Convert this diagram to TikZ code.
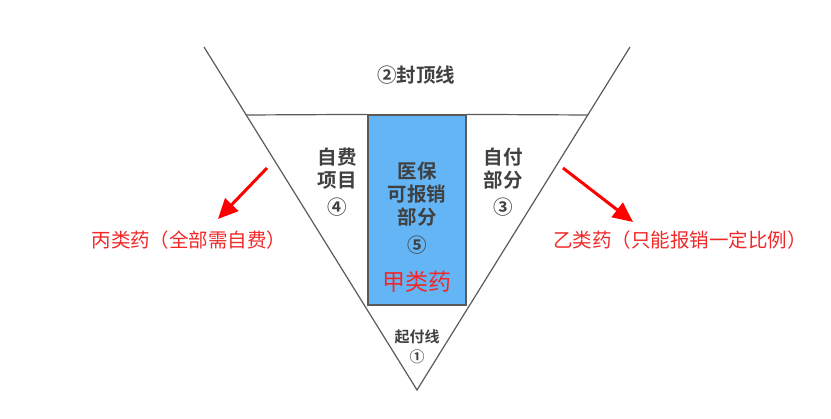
\documentclass[tikz,border=0pt]{standalone}
\usepackage{fontspec}
\newfontfamily\cjk{Noto Sans CJK SC}[BoldFont={Noto Sans CJK SC Bold}]
\usetikzlibrary{positioning,arrows.meta}
\definecolor{txtgray}{HTML}{404040}
\definecolor{linegray}{HTML}{5A5A5A}
\definecolor{boxblue}{HTML}{64B5F6}
\definecolor{lblred}{HTML}{F02828}
\begin{document}
\begin{tikzpicture}[x=1pt,y=-1pt]

        \tikzstyle{arrow} = [line width=3pt,-{Triangle[length=20pt,width=18pt]},draw=red]
        \tikzset{part/.style = {text=txtgray, font=\cjk\bfseries\fontsize{19.5}{23}\selectfont, align=center}, }
        \tikzset{medbox/.style = {rectangle, draw=linegray, line width=1.2pt, fill=boxblue, minimum width=98pt, minimum height=190pt}, }
        \tikzset{drug/.style = {text=lblred, font=\cjk\fontsize{19.5}{23}\selectfont} }

        \useasboundingbox (0,0) rectangle (831,419);

        \coordinate (TL) at (204,47);
        \coordinate (TR) at (630,47);
        \coordinate (AP) at (417,390);
        \coordinate (HL) at (246,115);
        \coordinate (HR) at (588,115);

        \node[medbox] (YB) at (417,210) {};

        \draw[linegray, line width=1.2pt] (TL) -- (AP) -- (TR);
        \draw[linegray, line width=1.2pt] (HL) -- (YB.north west);
        \draw[linegray, line width=1.2pt] (YB.north east) -- (HR);

        \node[part] (FD) at (416,75) {②封顶线};
        \node[part] (ZF) at (337,182) {自费\\项目\\[4pt]④};
        \node[part] (YP) at (417,208) {医保\\可报销\\部分\\[5pt]⑤};
        \node[part] (ZB) at (503,182) {自付\\部分\\[4pt]③};
        \node[part, font=\cjk\bfseries\fontsize{15}{20}\selectfont] (QF) at (417,347) {起付线\\①};
        \node[drug, font=\cjk\fontsize{23}{26}\selectfont] (JL) at (417,282) {甲类药};

        \node[drug] (BL) at (189,240) {丙类药（全部需自费）};
        \node[drug] (YL) at (680,240) {乙类药（只能报销一定比例）};

        \coordinate (LA) at (267,168);
        \coordinate (LB) at (218,219);
        \coordinate (RA) at (563,168);
        \coordinate (RB) at (633,222);

        \draw[arrow] (LA) -- (LB);
        \draw[arrow] (RA) -- (RB);

\end{tikzpicture}
\end{document}
